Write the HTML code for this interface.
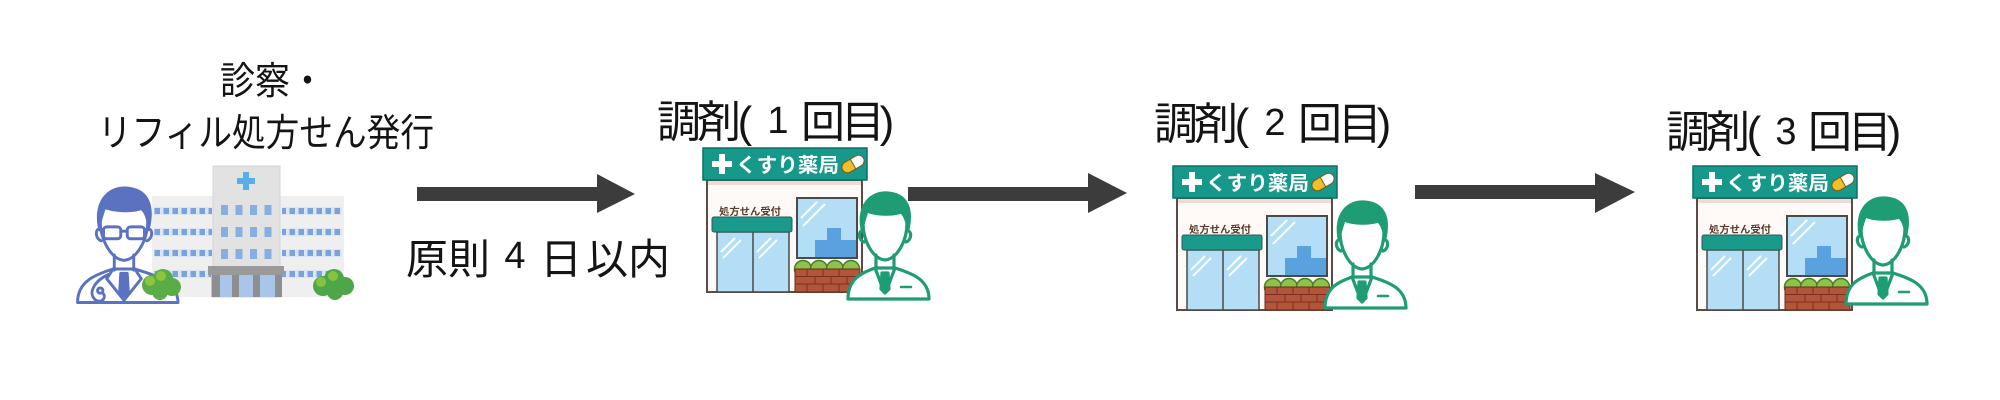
<!DOCTYPE html>
<html><head><meta charset="utf-8">
<style>
html,body{margin:0;padding:0;background:#fff;}
svg{display:block;}
text{font-family:"Liberation Sans","Noto Sans CJK JP",sans-serif;fill:#141414;}
</style></head><body>
<svg width="2000" height="400" viewBox="0 0 2000 400" xmlns="http://www.w3.org/2000/svg">
<defs>
<pattern id="wingwin" x="0" y="207" width="9" height="21" patternUnits="userSpaceOnUse">
  <rect x="0" y="0" width="9" height="8" fill="#dde5f0"/>
  <rect x="1.5" y="1" width="5.5" height="6" fill="#7aa3dc"/>
</pattern>
<pattern id="towwin" x="221" y="205" width="14.5" height="22" patternUnits="userSpaceOnUse">
  <rect x="0" y="0" width="7" height="10" fill="#86aee3"/>
</pattern>
</defs>
<rect width="2000" height="400" fill="#fff"/>

<!-- Left title -->
<text x="220" y="94" font-size="38" textLength="105" lengthAdjust="spacingAndGlyphs">診察・</text>
<text x="98" y="146" font-size="38" textLength="336" lengthAdjust="spacingAndGlyphs">リフィル処方せん発行</text>

<!-- Hospital -->
<rect x="152" y="196" width="62" height="101" fill="#efefef"/>
<rect x="154" y="207" width="58" height="72" fill="url(#wingwin)"/>
<rect x="280" y="196" width="64" height="101" fill="#efefef"/>
<rect x="282" y="207" width="60" height="72" fill="url(#wingwin)"/>
<rect x="213" y="166" width="67" height="131" fill="#e2e2e2" stroke="#d6d6d6"/>
<rect x="221" y="205" width="56" height="56" fill="url(#towwin)"/>
<path d="M243 172h6v6h6v6h-6v6h-6v-6h-6v-6h6z" fill="#5aaee6"/>
<rect x="211" y="274" width="70" height="23" fill="#a9c6ea"/>
<rect x="208" y="266" width="76" height="9" fill="#9a9a9a"/>
<rect x="212" y="275" width="8" height="22" fill="#8e8e8e"/>
<rect x="232" y="275" width="7" height="22" fill="#8e8e8e"/>
<rect x="253" y="275" width="7" height="22" fill="#8e8e8e"/>
<rect x="275" y="275" width="7" height="22" fill="#8e8e8e"/>

<!-- Doctor -->
<g transform="translate(124,188) scale(1.08)" stroke="#5a72c0" stroke-width="2.7" fill="none" stroke-linecap="round" stroke-linejoin="round">
  <path d="M-43 106 C-43 86 -26 80 -10 75 L10 75 C26 80 50 86 50 106 Z" fill="#fff"/>
  <path d="M-10 75 L-16 84 L0 104 M10 75 L16 84 L0 104"/>
  <path d="M-3 79 L3 79 L4 96 L0 100 L-4 96Z" fill="#5a72c0"/>
  <path d="M-14 80 C-28 86 -34 98 -26 104 C-19 107 -16 100 -20 97"/>
  <circle cx="-22" cy="95" r="2.5"/>
  <path d="M-21 26 C-22 48 -12 66 0 67 C12 66 22 48 21 26 C21 10 -21 10 -21 26 Z" fill="#fff" stroke="none"/>
  <path d="M-22 30 C-22 48 -12 66 0 67 C12 66 22 48 22 30"/>
  <path d="M-9 62 V76 M9 62 V76"/>
  <path d="M-22 38 C-27 37 -27 47 -21 49 M22 38 C27 37 27 47 21 49"/>
  <path d="M-23 36 C-27 12 -14 -1 2 0 C19 1 28 12 23 36 C22 28 20 22 16 19 C8 22 -8 22 -18 18 C-20 24 -22 30 -23 36 Z" fill="#5a72c0"/>
  <rect x="-19" y="36" width="16" height="11" rx="3"/>
  <rect x="3" y="36" width="16" height="11" rx="3"/>
  <path d="M-3 40 L3 40 M-19 40 L-22 39 M19 40 L22 39"/>
</g>

<!-- Trees -->
<g fill="#5aac45">
  <circle cx="152" cy="285" r="10"/><circle cx="163" cy="279" r="10"/><circle cx="172" cy="287" r="9"/><circle cx="160" cy="292" r="8"/>
</g>
<g fill="#8cc63f"><circle cx="150" cy="281" r="5"/><circle cx="161" cy="276" r="5"/></g>
<g fill="#4da64a">
  <circle cx="323" cy="286" r="10"/><circle cx="334" cy="279" r="10"/><circle cx="345" cy="286" r="9"/><circle cx="335" cy="292" r="8"/>
</g>
<g fill="#86c440"><circle cx="321" cy="282" r="5"/><circle cx="333" cy="276" r="5"/></g>

<!-- Arrows -->
<polygon points="417,187 597,187 597,174 635,194 597,213 597,201 417,201" fill="#3c3c3c"/>
<polygon points="908,187 1088,187 1088,173 1127,193 1088,213 1088,201 908,201" fill="#3c3c3c"/>
<polygon points="1415,185 1595,185 1595,173 1635,192 1595,213 1595,199 1415,199" fill="#3c3c3c"/>

<!-- 原則4日以内 -->
<g font-size="42" text-anchor="middle">
  <text x="427" y="274">原</text>
  <text x="469" y="274">則</text>
  <text x="515" y="268" font-size="38">4</text>
  <text x="561" y="274">日</text>
  <text x="607" y="274">以</text>
  <text x="649" y="274">内</text>
</g>

<!-- Titles -->
<g font-size="44" text-anchor="middle">
  <text x="679" y="137">調</text><text x="719" y="137">剤</text><text x="745" y="137">(</text>
  <text x="778" y="133" font-size="38">1</text>
  <text x="823" y="137">回</text><text x="863" y="137">目</text><text x="887" y="137">)</text>

  <text x="1176" y="139">調</text><text x="1216" y="139">剤</text><text x="1242" y="139">(</text>
  <text x="1275" y="135" font-size="38">2</text>
  <text x="1320" y="139">回</text><text x="1360" y="139">目</text><text x="1384" y="139">)</text>

  <text x="1688" y="147">調</text><text x="1728" y="147">剤</text><text x="1754" y="147">(</text>
  <text x="1786" y="144" font-size="38">3</text>
  <text x="1830" y="147">回</text><text x="1870" y="147">目</text><text x="1894" y="147">)</text>
</g>

<!-- Pharmacy 1 -->
<g transform="translate(703,148)">
  <rect x="4" y="32" width="155" height="112" fill="#fffaf8" stroke="#5a4a48" stroke-width="2"/>
  <rect x="5" y="33" width="153" height="4" fill="#f3d9d4"/>
  <rect x="0" y="0" width="164" height="32" fill="#16998b" stroke="#0f6f66" stroke-width="1.5"/>
  <path d="M9 13h7v-7h6v7h7v6h-7v7h-6v-7h-7z" fill="#fff"/>
  <text x="33" y="24" font-size="20" font-weight="bold" style="fill:#fff" textLength="103" lengthAdjust="spacingAndGlyphs">くすり薬局</text>
  <g transform="translate(150,16) rotate(-30)">
    <rect x="-12" y="-5.5" width="24" height="11" rx="5.5" fill="#fff" stroke="#7a5a1a" stroke-width="1"/>
    <path d="M0 -5.5 L-6.5 -5.5 A5.5 5.5 0 0 0 -6.5 5.5 L0 5.5 Z" fill="#f0c02a" stroke="#7a5a1a" stroke-width="1"/>
  </g>
  <text x="16" y="67" font-size="10" font-weight="bold" style="fill:#5a3a2a" textLength="62" lengthAdjust="spacingAndGlyphs">処方せん受付</text>
  <rect x="14" y="84" width="72" height="60" fill="#b3def5" stroke="#4a4a4a" stroke-width="1.5"/>
  <line x1="50" y1="84" x2="50" y2="144" stroke="#4a4a4a" stroke-width="1.5"/>
  <path d="M18 104 L32 90 M20 110 L38 92 M54 104 L68 90 M56 110 L74 92" stroke="#fff" stroke-width="2"/>
  <rect x="9" y="69" width="80" height="15" rx="2" fill="#1a9a8a" stroke="#2a5a55" stroke-width="1"/>
  <rect x="94" y="50" width="60" height="60" fill="#b3def5" stroke="#4a4a4a" stroke-width="2"/>
  <path d="M112 109 V92 H124 V80 H138 V92 H153 V109 Z" fill="#5aa2df"/>
  <path d="M98 70 L114 54 M100 78 L122 56" stroke="#fff" stroke-width="2"/>
  <g fill="#8cc34a" stroke="#4d7d25" stroke-width="1.5">
    <circle cx="100" cy="121" r="8.5"/><circle cx="116" cy="121" r="8.5"/><circle cx="132" cy="121" r="8.5"/><circle cx="148" cy="121" r="8.5"/>
  </g>
  <rect x="92" y="121" width="65" height="23" fill="#b2553a" stroke="#6a2a18" stroke-width="1"/>
  <path d="M92 128.5 H157 M92 136 H157 M104 121 V128.5 M120 121 V128.5 M136 121 V128.5 M112 128.5 V136 M128 128.5 V136 M144 128.5 V136 M104 136 V144 M120 136 V144 M136 136 V144" stroke="#7a3020" stroke-width="1"/>
</g>
<g transform="translate(885,193)" stroke="#1e9c74" stroke-width="3.2" fill="none" stroke-linecap="round" stroke-linejoin="round">
  <path d="M-37 106 C-37 86 -24 80 -10 75 L10 75 C26 80 44 86 44 106 Z" fill="#fff"/>
  <path d="M-10 75 L-2 96 M10 75 L2 96"/>
  <path d="M-3 80 L3 80 L4 96 L0 100 L-4 96Z" fill="#1e9c74"/>
  <path d="M16 94 L26 94" stroke-width="2.5"/>
  <path d="M-21 26 C-22 48 -12 66 0 67 C12 66 22 48 21 26 C21 10 -21 10 -21 26 Z" fill="#fff" stroke="none"/>
  <path d="M-22 30 C-22 48 -12 66 0 67 C12 66 22 48 22 30"/>
  <path d="M-9 62 V76 M9 62 V76"/>
  <path d="M-22 38 C-27 37 -27 47 -21 49 M22 38 C27 37 27 47 21 49"/>
  <path d="M-23 36 C-27 12 -14 -1 2 0 C19 1 28 12 23 36 C22 28 20 22 16 19 C8 22 -8 22 -18 18 C-20 24 -22 30 -23 36 Z" fill="#1e9c74"/>
</g>

<!-- Pharmacy 2 -->
<g transform="translate(1173,166)">
  <rect x="4" y="32" width="155" height="112" fill="#fffaf8" stroke="#5a4a48" stroke-width="2"/>
  <rect x="5" y="33" width="153" height="4" fill="#f3d9d4"/>
  <rect x="0" y="0" width="164" height="32" fill="#16998b" stroke="#0f6f66" stroke-width="1.5"/>
  <path d="M9 13h7v-7h6v7h7v6h-7v7h-6v-7h-7z" fill="#fff"/>
  <text x="33" y="24" font-size="20" font-weight="bold" style="fill:#fff" textLength="103" lengthAdjust="spacingAndGlyphs">くすり薬局</text>
  <g transform="translate(150,16) rotate(-30)">
    <rect x="-12" y="-5.5" width="24" height="11" rx="5.5" fill="#fff" stroke="#7a5a1a" stroke-width="1"/>
    <path d="M0 -5.5 L-6.5 -5.5 A5.5 5.5 0 0 0 -6.5 5.5 L0 5.5 Z" fill="#f0c02a" stroke="#7a5a1a" stroke-width="1"/>
  </g>
  <text x="16" y="67" font-size="10" font-weight="bold" style="fill:#5a3a2a" textLength="62" lengthAdjust="spacingAndGlyphs">処方せん受付</text>
  <rect x="14" y="84" width="72" height="60" fill="#b3def5" stroke="#4a4a4a" stroke-width="1.5"/>
  <line x1="50" y1="84" x2="50" y2="144" stroke="#4a4a4a" stroke-width="1.5"/>
  <path d="M18 104 L32 90 M20 110 L38 92 M54 104 L68 90 M56 110 L74 92" stroke="#fff" stroke-width="2"/>
  <rect x="9" y="69" width="80" height="15" rx="2" fill="#1a9a8a" stroke="#2a5a55" stroke-width="1"/>
  <rect x="94" y="50" width="60" height="60" fill="#b3def5" stroke="#4a4a4a" stroke-width="2"/>
  <path d="M112 109 V92 H124 V80 H138 V92 H153 V109 Z" fill="#5aa2df"/>
  <path d="M98 70 L114 54 M100 78 L122 56" stroke="#fff" stroke-width="2"/>
  <g fill="#8cc34a" stroke="#4d7d25" stroke-width="1.5">
    <circle cx="100" cy="121" r="8.5"/><circle cx="116" cy="121" r="8.5"/><circle cx="132" cy="121" r="8.5"/><circle cx="148" cy="121" r="8.5"/>
  </g>
  <rect x="92" y="121" width="65" height="23" fill="#b2553a" stroke="#6a2a18" stroke-width="1"/>
  <path d="M92 128.5 H157 M92 136 H157 M104 121 V128.5 M120 121 V128.5 M136 121 V128.5 M112 128.5 V136 M128 128.5 V136 M144 128.5 V136 M104 136 V144 M120 136 V144 M136 136 V144" stroke="#7a3020" stroke-width="1"/>
</g>
<g transform="translate(1362,202)" stroke="#1e9c74" stroke-width="3.2" fill="none" stroke-linecap="round" stroke-linejoin="round">
  <path d="M-37 106 C-37 86 -24 80 -10 75 L10 75 C26 80 44 86 44 106 Z" fill="#fff"/>
  <path d="M-10 75 L-2 96 M10 75 L2 96"/>
  <path d="M-3 80 L3 80 L4 96 L0 100 L-4 96Z" fill="#1e9c74"/>
  <path d="M16 94 L26 94" stroke-width="2.5"/>
  <path d="M-21 26 C-22 48 -12 66 0 67 C12 66 22 48 21 26 C21 10 -21 10 -21 26 Z" fill="#fff" stroke="none"/>
  <path d="M-22 30 C-22 48 -12 66 0 67 C12 66 22 48 22 30"/>
  <path d="M-9 62 V76 M9 62 V76"/>
  <path d="M-22 38 C-27 37 -27 47 -21 49 M22 38 C27 37 27 47 21 49"/>
  <path d="M-23 36 C-27 12 -14 -1 2 0 C19 1 28 12 23 36 C22 28 20 22 16 19 C8 22 -8 22 -18 18 C-20 24 -22 30 -23 36 Z" fill="#1e9c74"/>
</g>

<!-- Pharmacy 3 -->
<g transform="translate(1693,166)">
  <rect x="4" y="32" width="155" height="112" fill="#fffaf8" stroke="#5a4a48" stroke-width="2"/>
  <rect x="5" y="33" width="153" height="4" fill="#f3d9d4"/>
  <rect x="0" y="0" width="164" height="32" fill="#16998b" stroke="#0f6f66" stroke-width="1.5"/>
  <path d="M9 13h7v-7h6v7h7v6h-7v7h-6v-7h-7z" fill="#fff"/>
  <text x="33" y="24" font-size="20" font-weight="bold" style="fill:#fff" textLength="103" lengthAdjust="spacingAndGlyphs">くすり薬局</text>
  <g transform="translate(150,16) rotate(-30)">
    <rect x="-12" y="-5.5" width="24" height="11" rx="5.5" fill="#fff" stroke="#7a5a1a" stroke-width="1"/>
    <path d="M0 -5.5 L-6.5 -5.5 A5.5 5.5 0 0 0 -6.5 5.5 L0 5.5 Z" fill="#f0c02a" stroke="#7a5a1a" stroke-width="1"/>
  </g>
  <text x="16" y="67" font-size="10" font-weight="bold" style="fill:#5a3a2a" textLength="62" lengthAdjust="spacingAndGlyphs">処方せん受付</text>
  <rect x="14" y="84" width="72" height="60" fill="#b3def5" stroke="#4a4a4a" stroke-width="1.5"/>
  <line x1="50" y1="84" x2="50" y2="144" stroke="#4a4a4a" stroke-width="1.5"/>
  <path d="M18 104 L32 90 M20 110 L38 92 M54 104 L68 90 M56 110 L74 92" stroke="#fff" stroke-width="2"/>
  <rect x="9" y="69" width="80" height="15" rx="2" fill="#1a9a8a" stroke="#2a5a55" stroke-width="1"/>
  <rect x="94" y="50" width="60" height="60" fill="#b3def5" stroke="#4a4a4a" stroke-width="2"/>
  <path d="M112 109 V92 H124 V80 H138 V92 H153 V109 Z" fill="#5aa2df"/>
  <path d="M98 70 L114 54 M100 78 L122 56" stroke="#fff" stroke-width="2"/>
  <g fill="#8cc34a" stroke="#4d7d25" stroke-width="1.5">
    <circle cx="100" cy="121" r="8.5"/><circle cx="116" cy="121" r="8.5"/><circle cx="132" cy="121" r="8.5"/><circle cx="148" cy="121" r="8.5"/>
  </g>
  <rect x="92" y="121" width="65" height="23" fill="#b2553a" stroke="#6a2a18" stroke-width="1"/>
  <path d="M92 128.5 H157 M92 136 H157 M104 121 V128.5 M120 121 V128.5 M136 121 V128.5 M112 128.5 V136 M128 128.5 V136 M144 128.5 V136 M104 136 V144 M120 136 V144 M136 136 V144" stroke="#7a3020" stroke-width="1"/>
</g>
<g transform="translate(1883,198)" stroke="#1e9c74" stroke-width="3.2" fill="none" stroke-linecap="round" stroke-linejoin="round">
  <path d="M-37 106 C-37 86 -24 80 -10 75 L10 75 C26 80 44 86 44 106 Z" fill="#fff"/>
  <path d="M-10 75 L-2 96 M10 75 L2 96"/>
  <path d="M-3 80 L3 80 L4 96 L0 100 L-4 96Z" fill="#1e9c74"/>
  <path d="M16 94 L26 94" stroke-width="2.5"/>
  <path d="M-21 26 C-22 48 -12 66 0 67 C12 66 22 48 21 26 C21 10 -21 10 -21 26 Z" fill="#fff" stroke="none"/>
  <path d="M-22 30 C-22 48 -12 66 0 67 C12 66 22 48 22 30"/>
  <path d="M-9 62 V76 M9 62 V76"/>
  <path d="M-22 38 C-27 37 -27 47 -21 49 M22 38 C27 37 27 47 21 49"/>
  <path d="M-23 36 C-27 12 -14 -1 2 0 C19 1 28 12 23 36 C22 28 20 22 16 19 C8 22 -8 22 -18 18 C-20 24 -22 30 -23 36 Z" fill="#1e9c74"/>
</g>
</svg>
</body></html>
